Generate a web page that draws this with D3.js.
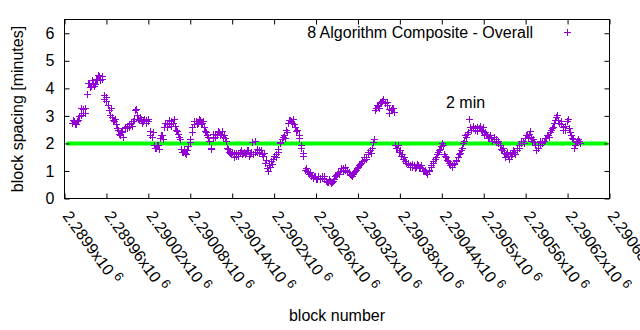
<!DOCTYPE html>
<html><head><meta charset="utf-8">
<script src="https://cdn.jsdelivr.net/npm/d3@7"></script>
<style>
body{margin:0;background:#fff}
svg{display:block}
text{font-family:"Liberation Sans",Arial,sans-serif;fill:#000}
</style>
</head><body><svg id="c" width="640" height="330"></svg>
<script>
// ---- data ----
const firstBlock = 2289911;
const blockStep = 3;
const spacingA = [2.75,2.8,2.7,2.85,3.05,3.25,3.1,3.8,4.2,4.1,4.2,4.15,4.3,4.45,4.35,3.75,3.55,3.4,3.05,2.95,
2.8,2.7,2.5,2.3,2.4,2.55,2.65,2.6,2.75,2.8,3.2,3.05,2.85,2.9,2.8,2.85,2.8,2.45,2.25,1.95,
1.85,1.95,2.2,2.3,2.6,2.75,2.7,2.8,2.75,2.65,2.45,2.25,1.8,1.7,1.65,1.75,2.05,2.4,2.7,2.8,
2.75,2.85,2.75,2.6,2.4,2.25,1.85,2.2,2.35,2.3,2.4,2.35,2.25,2.2,1.85,1.7,1.6,1.65,1.55,1.6,
1.7,1.6,1.7,1.65,1.75,1.6,2.05,1.7,1.8,1.65,1.75,1.55,1.3,1.1,1.2,1.35,1.45,1.6,1.8,2.05,
2.15,2.3,2.5,2.75,2.85,2.75,2.7,2.45,2.3,1.95,1.65,1.05,1.0,0.9,0.8,0.75,0.8,0.7,0.75,0.8,
0.7,0.65,0.6,0.65,0.6,0.7,0.85,0.95,1.0,1.1,1.05,1.0,0.95,0.85,0.9,1.0,1.1,1.2,1.3,1.4,
1.5,1.6,1.75,1.85,2.15,3.3,3.35,3.45,3.55,3.5,3.4,3.25,3.2,3.3,1.95,1.85,1.7,1.55,1.45,1.35,
1.25,1.2,1.15,1.2,1.15,1.2,1.15,1.1,1.0,0.95,1.0,1.15,1.3,1.45,1.6,1.75,1.9,1.95,1.55,1.4,
1.3,1.2,1.25,1.35,1.5,1.65,1.85,2.1,2.25,2.4,2.6,2.55,2.5,2.6,2.55,2.5,2.6,2.4,2.3,2.25,
2.2,2.15,2.05,2.1,1.95,1.75,1.65,1.6,1.55,1.65,1.6,1.7,1.75,1.85,2.0,2.1,2.2,2.3,2.35,2.25,
2.15,1.95,1.85,1.95,2.05,2.1,2.2,2.3,2.4,2.55,2.75,2.95,2.85,2.7,2.6,2.5,2.8,2.55,2.3,2.15,
1.95,2.1,2.1];
const spacingB = [2.85,2.7,2.8,3.0,3.3,3.1,3.3,4.2,4.05,4.3,4.1,4.35,4.5,4.3,4.45,3.6,3.7,3.2,3.3,2.85,
2.9,2.55,2.35,2.45,2.25,2.6,2.55,2.7,2.65,2.9,3.25,2.9,2.95,2.75,2.9,2.75,2.9,2.3,2.4,1.85,
1.95,1.8,2.3,2.15,2.75,2.6,2.85,2.65,2.9,2.5,2.35,2.15,1.7,1.8,1.6,1.9,2.15,2.6,2.8,2.7,
2.9,2.75,2.8,2.45,2.3,2.1,1.8,2.35,2.25,2.45,2.3,2.45,2.3,2.1,1.8,1.65,1.7,1.5,1.65,1.55,
1.75,1.65,1.6,1.75,1.55,1.7,1.6,2.1,1.7,1.75,1.6,1.65,1.4,1.0,1.15,1.25,1.55,1.5,1.7,2.0,
2.25,2.2,2.4,2.85,2.8,2.9,2.6,2.5,2.2,1.85,1.55,1.1,0.95,0.95,0.85,0.8,0.7,0.8,0.7,0.75,
0.8,0.6,0.7,0.55,0.65,0.8,0.9,0.9,1.1,1.0,1.15,0.95,0.9,0.8,0.95,1.05,1.15,1.25,1.35,1.5,
1.45,1.7,1.65,2.05,3.2,3.4,3.3,3.5,3.6,3.45,3.5,3.1,3.3,3.15,1.85,1.95,1.75,1.6,1.5,1.3,
1.3,1.15,1.25,1.1,1.25,1.1,1.2,1.0,1.05,0.9,1.05,1.2,1.35,1.5,1.7,1.8,2.0,1.6,1.5,1.35,
1.2,1.15,1.3,1.4,1.6,1.75,2.0,2.3,2.35,2.9,2.5,2.65,2.55,2.45,2.65,2.45,2.3,2.35,2.2,2.3,
2.1,2.25,2.15,2.0,1.8,1.85,1.5,1.7,1.45,1.55,1.75,1.6,1.85,1.95,2.1,2.0,2.3,2.2,2.45,2.1,
2.05,1.75,1.95,2.1,2.0,2.2,2.3,2.25,2.5,2.6,2.85,3.05,2.75,2.8,2.5,2.65,2.9,2.4,2.2,1.85,
2.05,2.15,2.0];
const xTickValues = [2289900,2289960,2290020,2290080,2290140,2290200,2290260,2290320,2290380,2290440,2290500,2290560,2290620,2290680];
const xTickMantissa = ["2.2899","2.28996","2.29002","2.29008","2.29014","2.2902","2.29026","2.29032","2.29038","2.29044","2.2905","2.29056","2.29062","2.29068"];
const yTickValues = [0,1,2,3,4,5,6];
const targetMinutes = 2;
const seriesName = "8 Algorithm Composite - Overall";
const targetLabel = "2 min";
const xTitle = "block number";
const yTitle = "block spacing [minutes]";

// ---- build points ----
const points = [];
spacingA.forEach((v, i) => points.push({block: firstBlock + blockStep * i, v}));
spacingB.forEach((v, i) => points.push({block: firstBlock + blockStep * i + 1, v}));

const FS = 16;
const svg = d3.select("#c");
const L = 64.5, R = 609.5, T = 19.5, B = 198.5;
const x = d3.scaleLinear().domain([2289900, 2290680]).range([L, R]);
const y = d3.scaleLinear().domain([0, 6.5]).range([B, T]);
const purple = "#9400d3";

// target line
svg.append("line")
  .attr("x1", x(2289900) + 2).attr("x2", x(2290680) - 2)
  .attr("y1", y(targetMinutes)).attr("y2", y(targetMinutes))
  .attr("stroke", "#00ff00").attr("stroke-width", 4);

// points
const plus = "M-3.5,0H3.5M0,-3.5V3.5";
svg.append("g").selectAll("path").data(points).join("path")
  .attr("transform", d => `translate(${Math.round(x(d.block)) + 0.5},${Math.round(y(d.v)) + 0.5})`)
  .attr("d", plus).attr("stroke", purple).attr("stroke-width", 1).attr("fill", "none");

// axes (inward ticks, mirrored)
const ax = (g) => { g.select(".domain").remove(); g.selectAll("line").attr("stroke", "#000"); };
svg.append("g").attr("transform", `translate(${L},0)`)
  .call(d3.axisLeft(y).tickValues(yTickValues).tickSize(-5).tickPadding(10).tickFormat(d3.format("d")))
  .call(ax)
  .call(g => g.selectAll("text").attr("font-size", FS).attr("font-family", '"Liberation Sans",Arial,sans-serif').attr("fill", "#000"));
svg.append("g").attr("transform", `translate(${R},0)`)
  .call(d3.axisRight(y).tickValues(yTickValues).tickSize(-5).tickFormat(""))
  .call(ax);
svg.append("g").attr("transform", `translate(0,${B})`)
  .call(d3.axisBottom(x).tickValues(xTickValues).tickSize(-5).tickFormat(""))
  .call(ax);
svg.append("g").attr("transform", `translate(0,${T})`)
  .call(d3.axisTop(x).tickValues(xTickValues).tickSize(-5).tickFormat(""))
  .call(ax);

// rotated x tick labels
const xl = svg.append("g").selectAll("text").data(xTickValues).join("text")
  .attr("transform", d => `translate(${x(d) - 2.5},216) rotate(54)`)
  .attr("font-size", FS);
xl.append("tspan").text((d, i) => xTickMantissa[i] + "x10");
xl.append("tspan").attr("dx", 4).attr("dy", -6).attr("font-size", 13).text("6");

// border
svg.append("rect").attr("x", L).attr("y", T).attr("width", R - L).attr("height", B - T)
  .attr("fill", "none").attr("stroke", "#000").attr("stroke-width", 1);

// titles
svg.append("text").attr("x", (L + R) / 2).attr("y", 321).attr("text-anchor", "middle")
  .attr("font-size", FS).text(xTitle);
svg.append("text").attr("transform", `translate(23,${(T + B) / 2}) rotate(-90)`)
  .attr("text-anchor", "middle").attr("font-size", FS).text(yTitle);

// legend
svg.append("text").attr("x", 533).attr("y", 38).attr("text-anchor", "end")
  .attr("font-size", FS).text(seriesName);
svg.append("path").attr("transform", "translate(567.5,32.5)").attr("d", plus)
  .attr("stroke", purple).attr("fill", "none");

// annotation
svg.append("text").attr("x", 446).attr("y", 108).attr("font-size", FS).text(targetLabel);
</script>
</body></html>
